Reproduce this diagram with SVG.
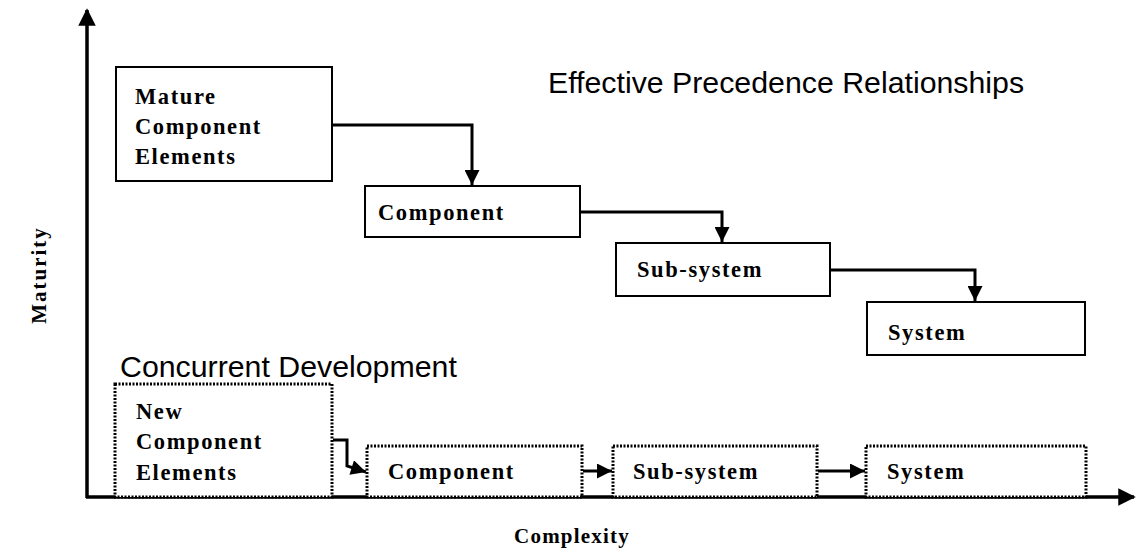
<svg xmlns="http://www.w3.org/2000/svg" width="1138" height="552" viewBox="0 0 1138 552">
  <style>
    .box { fill: #fff; stroke: #000; stroke-width: 2; }
    .dbox { fill: #fff; stroke: #000; stroke-width: 3; stroke-dasharray: 2 1.5; }
    .lbl { font-family: "Liberation Serif", "Times New Roman", serif; font-weight: bold; font-size: 22.5px; letter-spacing: 1.6px; fill: #000; }
    .head { font-family: "Liberation Sans", Arial, sans-serif; font-size: 30.3px; fill: #000; }
    .axl { font-family: "Liberation Serif", "Times New Roman", serif; font-weight: bold; font-size: 21px; fill: #000; }
    .conn { fill: none; stroke: #000; stroke-width: 3; }
    .axis { fill: none; stroke: #000; stroke-width: 3.5; }
  </style>
  <defs>
    <marker id="arr" viewBox="0 0 10 10" refX="10" refY="5" markerWidth="5.2" markerHeight="5" orient="auto" markerUnits="strokeWidth">
      <path d="M0,0 L10,5 L0,10 z" fill="#000"/>
    </marker>
    <marker id="axarr" viewBox="0 0 10 10" refX="9" refY="5" markerWidth="5" markerHeight="5" orient="auto" markerUnits="strokeWidth">
      <path d="M0,0 L10,5 L0,10 z" fill="#000"/>
    </marker>
  </defs>

  <rect width="1138" height="552" fill="#fff"/>

  <!-- axes -->
  <g id="axes">
    <path class="axis" d="M87,498 V10" marker-end="url(#axarr)"/>
    <path class="axis" d="M86,497 H1134" marker-end="url(#axarr)"/>
    <text class="axl" x="572" y="543" text-anchor="middle" letter-spacing="1.2">Complexity</text>
    <text class="axl" transform="translate(46,275) rotate(-90)" text-anchor="middle" letter-spacing="2">Maturity</text>
  </g>

  <!-- headings -->
  <text class="head" x="548" y="93">Effective Precedence Relationships</text>
  <text class="head" x="120" y="377">Concurrent Development</text>

  <!-- upper staircase -->
  <g id="mature">
    <rect class="box" x="116" y="67" width="216" height="114"/>
    <text class="lbl" x="135" y="104">Mature</text>
    <text class="lbl" x="135" y="134">Component</text>
    <text class="lbl" x="135" y="164">Elements</text>
  </g>
  <g id="component-top">
    <rect class="box" x="365" y="186" width="215" height="51"/>
    <text class="lbl" x="378" y="220">Component</text>
  </g>
  <g id="subsystem-top">
    <rect class="box" x="616" y="243" width="214" height="53"/>
    <text class="lbl" x="637" y="277">Sub-system</text>
  </g>
  <g id="system-top">
    <rect class="box" x="867" y="302" width="218" height="53"/>
    <text class="lbl" x="888" y="340">System</text>
  </g>

  <!-- lower row -->
  <g id="new">
    <rect class="dbox" x="115" y="384" width="217" height="113"/>
    <text class="lbl" x="136" y="419">New</text>
    <text class="lbl" x="136" y="449">Component</text>
    <text class="lbl" x="136" y="480">Elements</text>
  </g>
  <g id="component-bottom">
    <rect class="dbox" x="367" y="446" width="215" height="51"/>
    <text class="lbl" x="388" y="479">Component</text>
  </g>
  <g id="subsystem-bottom">
    <rect class="dbox" x="613" y="446" width="204" height="51"/>
    <text class="lbl" x="633" y="479">Sub-system</text>
  </g>
  <g id="system-bottom">
    <rect class="dbox" x="866" y="446" width="220" height="51"/>
    <text class="lbl" x="887" y="479">System</text>
  </g>

  <!-- connectors -->
  <g id="connectors">
    <path class="conn" d="M333,125 H472 V185" marker-end="url(#arr)"/>
    <path class="conn" d="M581,212 H722 V242" marker-end="url(#arr)"/>
    <path class="conn" d="M831,270 H975 V301" marker-end="url(#arr)"/>
    <path class="conn" d="M333,440 H347 V466 L366,472" marker-end="url(#arr)"/>
    <path class="conn" d="M583,471 H612" marker-end="url(#arr)"/>
    <path class="conn" d="M818,471 H865" marker-end="url(#arr)"/>
  </g>
</svg>
